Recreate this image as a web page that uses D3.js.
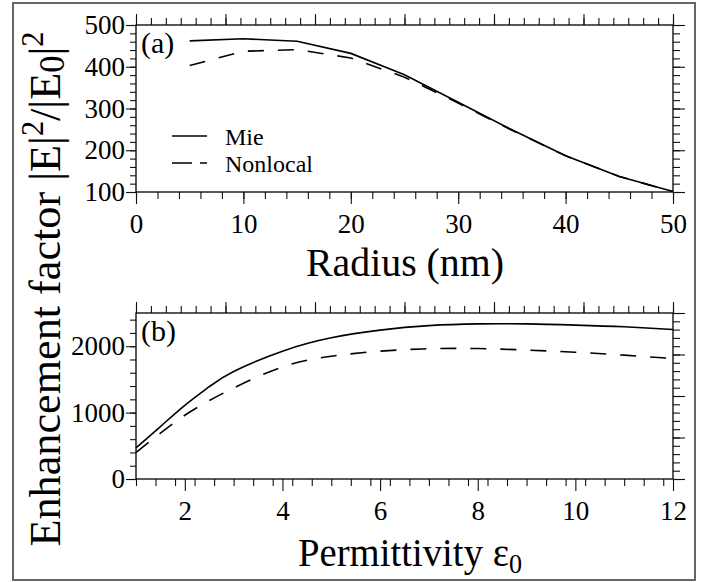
<!DOCTYPE html>
<html>
<head>
<meta charset="utf-8">
<script src="https://cdn.jsdelivr.net/npm/d3@7"></script>
</head>
<body style="margin:0; background:#fff">
<svg id="chart" width="711" height="582" font-family="Liberation Serif"></svg>
<script>
// panel (a): enhancement vs radius
var radius = [5, 10, 15, 20, 25, 30, 35, 40, 45, 50];
var mieA = [462, 467, 461, 432, 381, 315, 249, 187, 137, 101];
var nonlocalA = [403, 437, 441, 421, 375, 313, 248, 187, 137, 101];

// panel (b): enhancement vs permittivity
var eps = [1, 1.5, 2, 2.5, 3, 4, 5, 6, 7, 8, 9, 10, 11, 12];
var mieB = [470, 790, 1110, 1390, 1620, 1925, 2126, 2242, 2310, 2336, 2336, 2318, 2292, 2252];
var nonlocalB = [400, 690, 960, 1180, 1370, 1688, 1849, 1925, 1962, 1965, 1942, 1910, 1865, 1814];

var ticksA = [0, 10, 20, 30, 40, 50];
var ticksAY = [100, 200, 300, 400, 500];
var ticksB = [2, 4, 6, 8, 10, 12];
var ticksBY = [0, 1000, 2000];

var svg = d3.select("#chart");
var left = 136, right = 673;

// outer frame
svg.append("rect")
  .attr("x", 13).attr("y", 3)
  .attr("width", 682).attr("height", 577)
  .attr("fill", "none").attr("stroke", "#666").attr("stroke-width", 2);

function ticks(g, axis) {
  g.call(axis);
  g.attr("font-family", null).attr("font-size", null);
  g.select(".domain").remove();
  g.selectAll("line").attr("stroke", "#111").attr("stroke-width", 1.1);
  g.selectAll("text").attr("font-size", 27).attr("fill", "#000");
}

function panel(opt) {
  var x = d3.scaleLinear().domain(opt.xDomain).range([left, right]);
  var y = d3.scaleLinear().domain(opt.yDomain).range([opt.bottom, opt.top]);
  var top = d3.scaleLinear().domain([0, 36]).range([left, right]);
  var rt = d3.scaleLinear().domain([0, opt.rightN]).range([opt.bottom, opt.top]);
  var g = svg.append("g");

  // bottom
  g.append("g").attr("transform", "translate(0," + opt.bottom + ")")
    .call(ticks, d3.axisBottom(x).tickValues(d3.range(opt.xDomain[0], opt.xDomain[1] + 1e-9, opt.xMinor))
      .tickSize(7).tickSizeOuter(0).tickFormat(""));
  g.append("g").attr("transform", "translate(0," + opt.bottom + ")")
    .call(ticks, d3.axisBottom(x).tickValues(opt.xTicks).tickSize(12).tickSizeOuter(0)
      .tickPadding(10).tickFormat(d3.format("d")));
  // left
  g.append("g").attr("transform", "translate(" + left + ",0)")
    .call(ticks, d3.axisLeft(y).tickValues(d3.range(opt.yDomain[0], opt.yDomain[1] + 1e-9, opt.yMinor))
      .tickSize(6).tickSizeOuter(0).tickFormat(""));
  g.append("g").attr("transform", "translate(" + left + ",0)")
    .call(ticks, d3.axisLeft(y).tickValues(opt.yTicks).tickSize(10).tickSizeOuter(0)
      .tickPadding(1).tickFormat(d3.format("d")));
  // top
  g.append("g").attr("transform", "translate(0," + opt.top + ")")
    .call(ticks, d3.axisTop(top).tickValues(d3.range(0, 37))
      .tickSize(7).tickSizeOuter(0).tickFormat(""));
  g.append("g").attr("transform", "translate(0," + opt.top + ")")
    .call(ticks, d3.axisTop(top).tickValues(d3.range(0, 37, 6)).tickSize(11).tickSizeOuter(0).tickFormat(""));
  // right
  g.append("g").attr("transform", "translate(" + right + ",0)")
    .call(ticks, d3.axisRight(rt).tickValues(d3.range(0, opt.rightN * 5 + 1).map(function(d) { return d / 5; }))
      .tickSize(7).tickSizeOuter(0).tickFormat(""));
  g.append("g").attr("transform", "translate(" + right + ",0)")
    .call(ticks, d3.axisRight(rt).tickValues(d3.range(0, opt.rightN + 1)).tickSize(12).tickSizeOuter(0).tickFormat(""));

  g.append("rect")
    .attr("x", left).attr("y", opt.top)
    .attr("width", right - left).attr("height", opt.bottom - opt.top)
    .attr("fill", "none").attr("stroke", "#000").attr("stroke-width", 1.3);

  var line = d3.line()
    .x(function(d) { return x(d[0]); })
    .y(function(d) { return y(d[1]); })
    .curve(opt.curve);

  g.append("path").datum(d3.zip(opt.xs, opt.mie))
    .attr("d", line).attr("fill", "none").attr("stroke", "#000").attr("stroke-width", 1.6);
  g.append("path").datum(d3.zip(opt.xs, opt.nonlocal))
    .attr("d", line).attr("fill", "none").attr("stroke", "#000").attr("stroke-width", 1.6)
    .attr("stroke-dasharray", "16,14");

  g.append("text").attr("x", 141).attr("y", opt.top + 28)
    .attr("font-size", 30).text(opt.tag);
  return g;
}

panel({
  xDomain: [0, 50], yDomain: [100, 500], top: 25, bottom: 192,
  xTicks: ticksA, yTicks: ticksAY, xMinor: 2, yMinor: 20, rightN: 4,
  xs: radius, mie: mieA, nonlocal: nonlocalA, curve: d3.curveLinear, tag: "(a)"
});

panel({
  xDomain: [1, 12], yDomain: [0, 2500], top: 313, bottom: 479,
  xTicks: ticksB, yTicks: ticksBY, xMinor: 0.4, yMinor: 200, rightN: 4,
  xs: eps, mie: mieB, nonlocal: nonlocalB, curve: d3.curveNatural, tag: "(b)"
});

// legend
var leg = svg.append("g");
leg.append("line").attr("x1", 172).attr("x2", 207).attr("y1", 136).attr("y2", 136)
  .attr("stroke", "#000").attr("stroke-width", 1.6);
leg.append("line").attr("x1", 172).attr("x2", 207).attr("y1", 163).attr("y2", 163)
  .attr("stroke", "#000").attr("stroke-width", 1.6).attr("stroke-dasharray", "20,8,7");
leg.append("text").attr("x", 225).attr("y", 145).attr("font-size", 24).text("Mie");
leg.append("text").attr("x", 225).attr("y", 172).attr("font-size", 24).text("Nonlocal");

// axis titles
svg.append("text").attr("x", 405).attr("y", 276).attr("text-anchor", "middle")
  .attr("font-size", 40).attr("textLength", 198).attr("lengthAdjust", "spacingAndGlyphs")
  .text("Radius (nm)");

var pt = svg.append("text").attr("x", 410).attr("y", 566).attr("text-anchor", "middle")
  .attr("font-size", 40).attr("textLength", 224).attr("lengthAdjust", "spacingAndGlyphs");
pt.append("tspan").text("Permittivity \u03b5");
pt.append("tspan").attr("dy", 7).attr("font-size", 27).text("0");

var yt = svg.append("text")
  .attr("transform", "translate(60,289) rotate(-90)")
  .attr("text-anchor", "middle")
  .attr("font-size", 45).attr("textLength", 515).attr("lengthAdjust", "spacingAndGlyphs");
yt.append("tspan").text("Enhancement factor |E|");
yt.append("tspan").attr("dy", -17).attr("font-size", 31).text("2");
yt.append("tspan").attr("dy", 17).text("/|E");
yt.append("tspan").attr("dy", 4).attr("font-size", 35).text("0");
yt.append("tspan").attr("dy", -4).text("|");
yt.append("tspan").attr("dy", -17).attr("font-size", 31).text("2");

// set the serif face on every text node directly
svg.selectAll("text, tspan")
  .attr("font-family", "Liberation Serif")
  .style("font-family", "'Liberation Serif'");
</script>
</body>
</html>
